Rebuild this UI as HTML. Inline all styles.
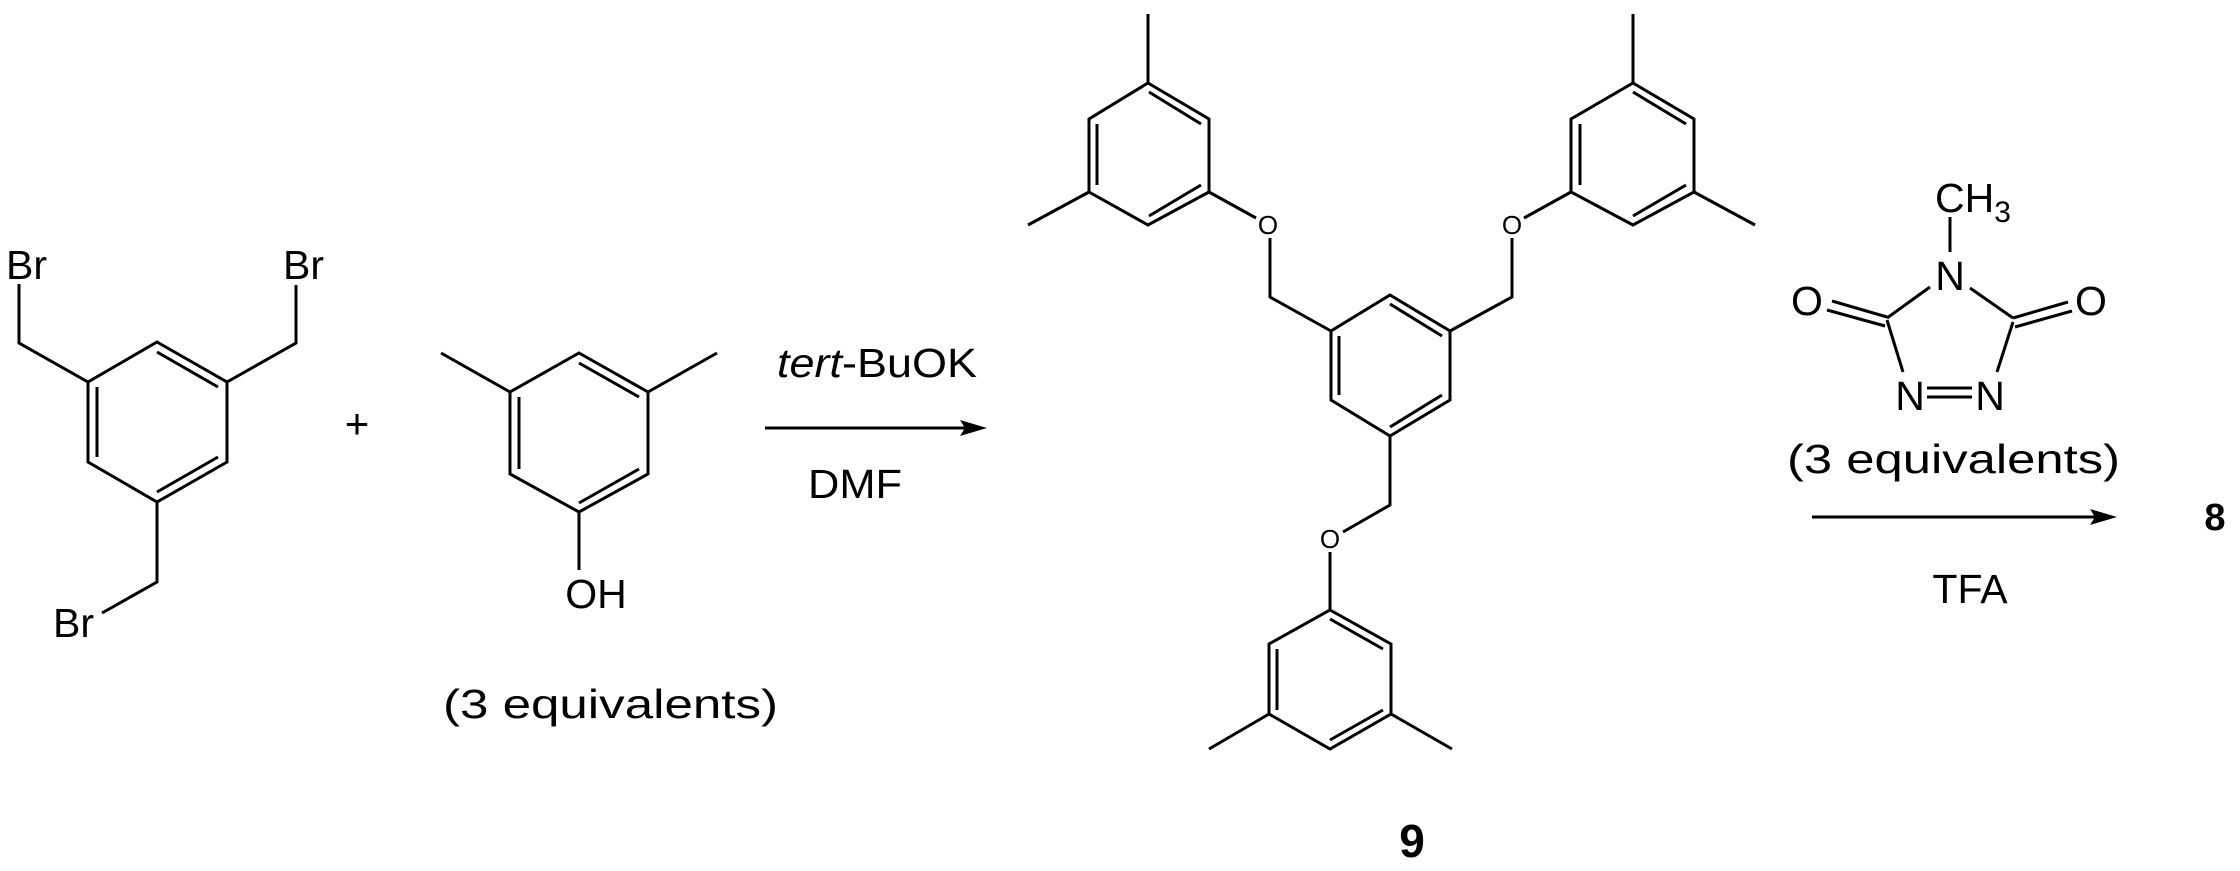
<!DOCTYPE html>
<html><head><meta charset="utf-8"><style>
html,body{margin:0;padding:0;background:#fff;}
svg{display:block;}
text{font-family:"Liberation Sans",Arial,sans-serif;fill:#000;}
</style></head><body>
<svg width="2240" height="871" viewBox="0 0 2240 871" xmlns="http://www.w3.org/2000/svg">
<g stroke="#000" stroke-width="3" fill="none" stroke-linecap="butt" stroke-linejoin="miter">
<!-- left tribromide ring -->
<polygon points="157,342 227,382 227,462 157,502 88,462 88,382"/>
<line x1="97" y1="387" x2="97" y2="457"/>
<line x1="157" y1="352" x2="218" y2="387"/>
<line x1="218" y1="457" x2="157" y2="492"/>
<polyline points="88,382 19,343 19,284"/>
<polyline points="227,382 296,343 296,285"/>
<polyline points="157,502 157,582 102,613"/>
<!-- phenol -->
<polygon points="579,353 648,392 648,474 579,512 510,474 510,392"/>
<line x1="519" y1="397" x2="519" y2="469"/>
<line x1="579" y1="363" x2="639" y2="397"/>
<line x1="639" y1="469" x2="579" y2="503"/>
<line x1="510" y1="392" x2="441" y2="353"/>
<line x1="648" y1="392" x2="717" y2="353"/>
<line x1="579" y1="512" x2="579" y2="570"/>
<!-- arrow 1 -->
<line x1="765" y1="428" x2="970" y2="428"/>
<!-- central ring -->
<polygon points="1390,295 1450,331 1450,400 1390,436 1331,400 1331,331"/>
<line x1="1339" y1="336" x2="1339" y2="395"/>
<line x1="1390" y1="304" x2="1442" y2="336"/>
<line x1="1442" y1="395" x2="1390" y2="427"/>
<!-- UL arm -->
<polyline points="1331,331 1270,297 1270,238"/>
<line x1="1256" y1="218" x2="1209" y2="192"/>
<polygon points="1148,83 1209,119 1209,192 1148,225 1089,192 1089,119"/>
<line x1="1149" y1="92" x2="1201" y2="124"/>
<line x1="1097" y1="124" x2="1097" y2="185"/>
<line x1="1149" y1="216" x2="1201" y2="185"/>
<line x1="1148" y1="83" x2="1148" y2="14"/>
<line x1="1089" y1="192" x2="1028" y2="225"/>
<!-- UR arm -->
<polyline points="1450,331 1512,297 1512,238"/>
<line x1="1524" y1="218" x2="1571" y2="192"/>
<polygon points="1633,83 1694,119 1694,192 1633,225 1571,192 1571,119"/>
<line x1="1633" y1="92" x2="1686" y2="124"/>
<line x1="1580" y1="124" x2="1580" y2="185"/>
<line x1="1686" y1="185" x2="1633" y2="216"/>
<line x1="1633" y1="83" x2="1633" y2="14"/>
<line x1="1694" y1="192" x2="1755" y2="225"/>
<!-- bottom arm -->
<polyline points="1390,436 1390,505 1343,532"/>
<line x1="1330" y1="552" x2="1330" y2="610"/>
<polygon points="1330,610 1391,644 1391,714 1330,749 1269,714 1269,644"/>
<line x1="1330" y1="619" x2="1383" y2="649"/>
<line x1="1277" y1="649" x2="1277" y2="710"/>
<line x1="1383" y1="710" x2="1330" y2="740"/>
<line x1="1269" y1="714" x2="1209" y2="749"/>
<line x1="1391" y1="714" x2="1452" y2="749"/>
<!-- triazolinedione -->
<line x1="1950" y1="217" x2="1950" y2="252"/>
<line x1="1930" y1="287" x2="1887" y2="318"/>
<line x1="1970" y1="288" x2="2013" y2="318"/>
<line x1="1887" y1="320" x2="1903" y2="372"/>
<line x1="2013" y1="322" x2="1997" y2="372"/>
<line x1="1832" y1="301" x2="1887" y2="317"/>
<line x1="1827" y1="310" x2="1885" y2="326"/>
<line x1="2013" y1="318" x2="2068" y2="302"/>
<line x1="2015" y1="327" x2="2072" y2="311"/>
<line x1="1927" y1="388" x2="1972" y2="388"/>
<line x1="1927" y1="397" x2="1972" y2="397"/>
<!-- arrow 2 -->
<line x1="1812" y1="517" x2="2100" y2="517"/>
</g>
<polygon points="987,428 960,420 965,428 960,436" fill="#000"/>
<polygon points="2117,517 2090,509 2095,517 2090,525" fill="#000"/>

<g font-size="41">
<text x="6" y="279">Br</text>
<text x="283" y="279">Br</text>
<text x="53" y="637">Br</text>
<text x="357" y="438" text-anchor="middle" font-size="42">+</text>
<text x="596" y="608" text-anchor="middle">OH</text>
<text x="443" y="718" textLength="335" lengthAdjust="spacingAndGlyphs">(3 equivalents)</text>
<text x="777" y="377" textLength="200" lengthAdjust="spacingAndGlyphs"><tspan font-style="italic">tert</tspan>-BuOK</text>
<text x="808" y="498" textLength="94" lengthAdjust="spacingAndGlyphs">DMF</text>
<text x="1935" y="212">CH<tspan font-size="30" dy="10">3</tspan></text>
<text x="1950" y="290" text-anchor="middle">N</text>
<text x="1807" y="315" text-anchor="middle">O</text>
<text x="2091" y="315" text-anchor="middle">O</text>
<text x="1910" y="410" text-anchor="middle">N</text>
<text x="1990" y="410" text-anchor="middle">N</text>
<text x="1787" y="473" textLength="333" lengthAdjust="spacingAndGlyphs">(3 equivalents)</text>
<text x="1970" y="603" text-anchor="middle">TFA</text>
<text x="2215" y="530" text-anchor="middle" font-weight="bold" font-size="38">8</text>
<text x="1412" y="857" text-anchor="middle" font-weight="bold" font-size="46">9</text>
</g>
<g font-size="26" text-anchor="middle">
<text x="1268" y="234">O</text>
<text x="1512" y="234">O</text>
<text x="1330" y="548">O</text>
</g>
</svg>
</body></html>
